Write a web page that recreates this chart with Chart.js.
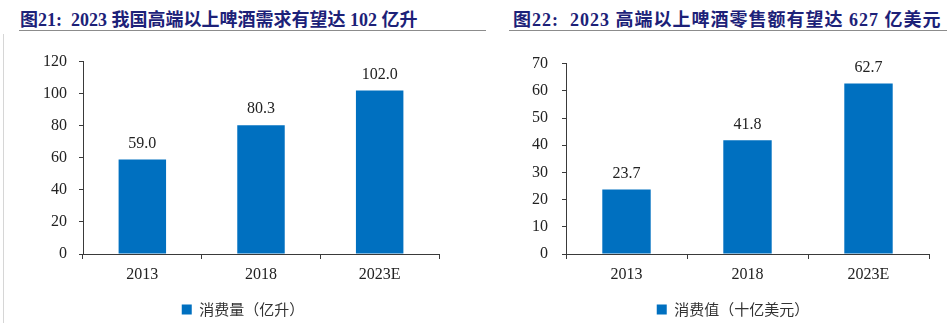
<!DOCTYPE html>
<html>
<head>
<meta charset="utf-8">
<script src="https://cdn.jsdelivr.net/npm/chart.js@4.4.0/dist/chart.umd.min.js"></script>
<style>
    body { margin: 0; width: 947px; height: 323px; background: #fff; position: relative; overflow: hidden; }
    .title { position: absolute; top: 5px; font-family: "Liberation Serif", "Noto Sans CJK SC", serif; font-weight: bold; font-size: 18px; color: #1c2178; white-space: nowrap; }
    .rule { position: absolute; top: 30px; height: 1px; background: #8c8c8c; }
    .vline { position: absolute; left: 3px; top: 34px; width: 1px; height: 289px; background: #d6d6d6; }
    .box { position: absolute; top: 40px; height: 283px; }
</style>
</head>
<body>
<div class="title" style="left:20px;">图21:&nbsp; 2023 我国高端以上啤酒需求有望达 102 亿升</div>
<div class="title" style="left:513px; letter-spacing:1px;">图22:&nbsp; 2023 高端以上啤酒零售额有望达 627 亿美元</div>
<div class="rule" style="left:19px; width:467px;"></div>
<div class="rule" style="left:509px; width:438px;"></div>
<div class="vline"></div>
<div class="box" style="left:0; width:470px;"><canvas id="c1"></canvas></div>
<div class="box" style="left:470px; width:477px;"><canvas id="c2"></canvas></div>

<script>
const years = ['2013', '2018', '2023E'];
const volume = [59.0, 80.3, 102.0];        // 亿升
const retailValue = [23.7, 41.8, 62.7];    // 十亿美元
const volumeLabel = '消费量（亿升）';
const valueLabel = '消费值（十亿美元）';

const serif = '"Liberation Serif", "Times New Roman", serif';
const barBlue = '#0070c0';
const axisColor = '#3a3a3a';

// draw the value above each bar
const valueLabels = {
    id: 'valueLabels',
    afterDatasetsDraw(chart) {
        const c = chart.ctx;
        c.save();
        c.font = '16px ' + serif;
        c.fillStyle = '#222';
        c.textAlign = 'center';
        c.textBaseline = 'middle';
        chart.getDatasetMeta(0).data.forEach((bar, i) => {
            const v = chart.data.datasets[0].data[i];
            c.fillText(v.toFixed(1), bar.x, bar.y - 16);
        });
        c.restore();
    }
};

// nudge the legend so it sits under the plot like the original
const legendShift = {
    id: 'legendShift',
    afterLayout(chart, args, opts) {
        const lg = chart.legend;
        if (lg) {
            lg.left += opts.dx;
            lg.right += opts.dx;
            lg.top += opts.dy;
            lg.bottom += opts.dy;
        }
    }
};

function makeChart(id, data, label, max, step, yWidth, padRight, tickPad, dx) {
    return new Chart(document.getElementById(id), {
        type: 'bar',
        data: {
            labels: years,
            datasets: [{
                label: label,
                data: data,
                backgroundColor: barBlue,
                borderWidth: 0,
                barPercentage: 0.4,
                categoryPercentage: 1.0
            }]
        },
        options: {
            responsive: true,
            maintainAspectRatio: false,
            animation: false,
            layout: { padding: { top: 21, left: 0, right: padRight, bottom: 0 } },
            scales: {
                x: {
                    offset: true,
                    grid: { offset: true, drawOnChartArea: false, drawTicks: true, tickLength: 5, color: axisColor },
                    border: { color: axisColor, width: 1 },
                    ticks: { color: '#222', font: { family: serif, size: 16 }, padding: 6 },
                    afterFit(s) { s.height = 43; }
                },
                y: {
                    min: 0,
                    max: max,
                    grid: { drawOnChartArea: false, drawTicks: true, tickLength: 4, color: axisColor },
                    border: { color: axisColor, width: 1 },
                    ticks: { stepSize: step, color: '#222', font: { family: serif, size: 16 }, padding: tickPad },
                    afterFit(s) { s.width = yWidth; }
                }
            },
            plugins: {
                legend: {
                    position: 'bottom',
                    labels: {
                        boxWidth: 10,
                        boxHeight: 10,
                        color: '#333',
                        font: { family: '"Noto Sans CJK SC", sans-serif', size: 15 },
                        padding: 1
                    }
                },
                legendShift: { dx: dx, dy: 4 },
                tooltip: { enabled: false }
            }
        },
        plugins: [valueLabels, legendShift]
    });
}

makeChart('c1', volume, volumeLabel, 120, 20, 83, 31, 12, 23.5);
makeChart('c2', retailValue, valueLabel, 70, 10, 96, 18, 14, 33.5);
</script>
</body>
</html>
